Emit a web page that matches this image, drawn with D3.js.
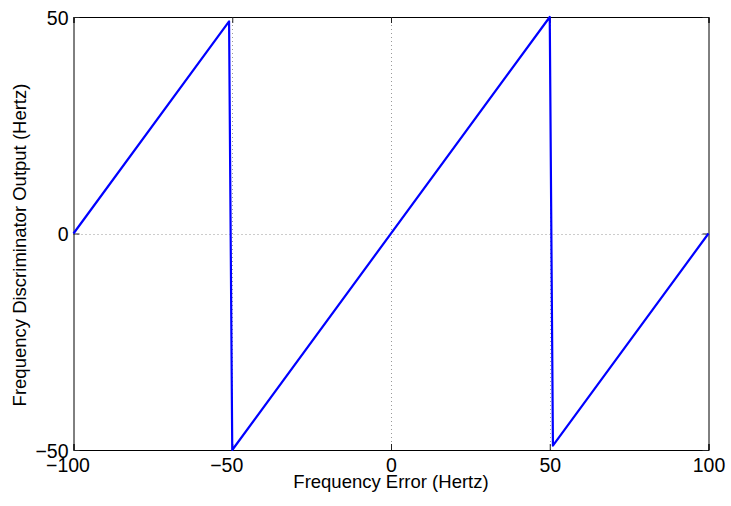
<!DOCTYPE html>
<html><head><meta charset="utf-8">
<script src="https://cdn.jsdelivr.net/npm/d3@7"></script>
<style>html,body{margin:0;padding:0;background:#fff;}</style>
</head><body>
<script>
const freqError = [-100, -51, -50, 50, 51, 100];
const discOutput = [0, 49, -50, 50, -49, 0];
const xTicks = [-100, -50, 0, 50, 100];
const yTicks = [-50, 0, 50];
const xLabel = "Frequency Error (Hertz)";
const yLabel = "Frequency Discriminator Output (Hertz)";

const W = 731, H = 506;
const L = 73.5, R = 708.5, T = 17, B = 450;
const font = "Liberation Sans, Arial, Helvetica, sans-serif";
const svg = d3.select("body").append("svg").attr("width", W).attr("height", H);
const x = d3.scaleLinear().domain([-100, 100]).range([L, R]);
const y = d3.scaleLinear().domain([-50, 50]).range([B, T]);

// grid
const g = svg.append("g").attr("stroke", "#999").attr("stroke-width", 1).attr("stroke-dasharray", "1,3");
xTicks.filter(v => v > -100 && v < 100).forEach(v => {
  g.append("line").attr("x1", Math.round(x(v))+0.5).attr("x2", Math.round(x(v))+0.5).attr("y1", T).attr("y2", B);
});
yTicks.filter(v => v > -50 && v < 50).forEach(v => {
  g.append("line").attr("y1", Math.round(y(v))+0.5).attr("y2", Math.round(y(v))+0.5).attr("x1", L).attr("x2", R);
});

// axes
const fmt = d => d < 0 ? "\u2212" + Math.abs(d) : String(d);
const ax = svg.append("g").attr("transform", `translate(0,${B})`)
  .call(d3.axisBottom(x).tickValues(xTicks).tickSize(-6).tickPadding(8).tickFormat(fmt));
const axT = svg.append("g").attr("transform", `translate(0,${T})`)
  .call(d3.axisTop(x).tickValues(xTicks).tickSize(-6).tickFormat(""));
const ay = svg.append("g").attr("transform", `translate(${L},0)`)
  .call(d3.axisLeft(y).tickValues(yTicks).tickSize(-6).tickPadding(5).tickFormat(fmt));
const ayR = svg.append("g").attr("transform", `translate(${R},0)`)
  .call(d3.axisRight(y).tickValues(yTicks).tickSize(-6).tickFormat(""));
[ax, axT, ay, ayR].forEach(a => {
  a.select(".domain").attr("stroke", "#000").attr("stroke-width", 1);
  a.selectAll(".tick line").attr("stroke", "#222");
  a.selectAll("text").attr("font-family", font).attr("font-size", 19.5).attr("fill", "#000");
});
ax.selectAll(".tick text").attr("dx", d => d < 0 ? -6 : 0);
ay.selectAll(".tick text").attr("dy", "0.36em");

// line
svg.append("path")
  .datum(freqError.map((v, i) => [v, discOutput[i]]))
  .attr("fill", "none").attr("stroke", "#0000ff").attr("stroke-width", 2.2)
  .attr("stroke-linejoin", "round")
  .attr("d", d3.line().x(d => x(d[0])).y(d => y(d[1])));

// labels
svg.append("text").attr("x", (L + R) / 2).attr("y", 488).attr("text-anchor", "middle")
  .attr("font-family", font).attr("font-size", 18.5).text(xLabel);
svg.append("text").attr("transform", `translate(26,245) rotate(-90)`).attr("text-anchor", "middle")
  .attr("font-family", font).attr("font-size", 18.5).text(yLabel);
</script>
</body></html>
